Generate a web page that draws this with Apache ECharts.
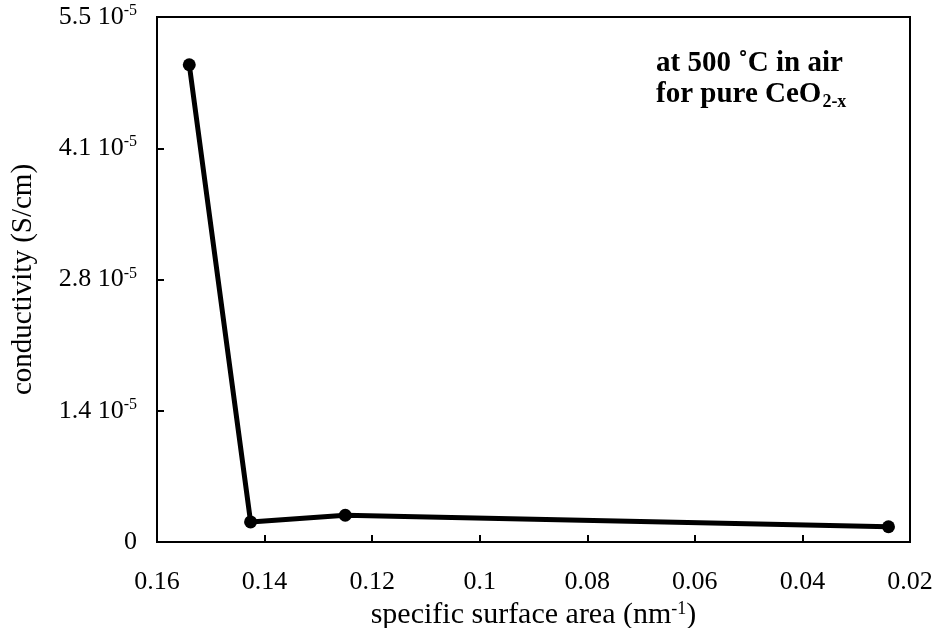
<!DOCTYPE html>
<html>
<head>
<meta charset="utf-8">
<script src="https://cdn.jsdelivr.net/npm/echarts@6/dist/echarts.min.js"></script>
<style>
  html, body { margin: 0; padding: 0; background: #fff; }
  #chart { width: 936px; height: 628px; }
</style>
</head>
<body>
<div id="chart"></div>
<script>
// specific surface area (nm^-1)
var surfaceArea = [0.154, 0.1426, 0.125, 0.024];
// conductivity in units of 1e-5 S/cm
var conductivity = [5.0, 0.21, 0.28, 0.16];
// tick labels
var xTickLabels = ["0.02", "0.04", "0.06", "0.08", "0.1", "0.12", "0.14", "0.16"];
var yTickLabels = ["0", "1.4", "2.8", "4.1", "5.5"];

var font = "Liberation Serif";
var chart = echarts.init(document.getElementById("chart"));

var points = [];
for (var i = 0; i < surfaceArea.length; i++) {
  points.push([surfaceArea[i], conductivity[i]]);
}

chart.setOption({
  animation: false,
  backgroundColor: "#fff",
  grid: {
    left: 157,
    right: 26,
    top: 17,
    bottom: 86,
    containLabel: false,
    outerBoundsMode: "none",
    show: true,
    borderColor: "#000",
    borderWidth: 2
  },
  xAxis: {
    type: "value",
    inverse: true,
    min: 0.02,
    max: 0.16,
    interval: 0.02,
    name: "{a|specific surface area (nm}{sup|-1}{a|)}",
    nameLocation: "middle",
    nameGap: 50,
    nameTextStyle: {
      rich: {
        a: { fontFamily: font, fontSize: 30, color: "#000" },
        sup: { fontFamily: font, fontSize: 18, color: "#000", verticalAlign: "top", padding: [0, 0, 13, 0] }
      }
    },
    axisLine: { lineStyle: { color: "#000", width: 2 } },
    axisTick: { inside: true, length: 7, lineStyle: { color: "#000", width: 2 } },
    splitLine: { show: false },
    axisLabel: {
      margin: 27,
      fontFamily: font,
      fontSize: 26,
      color: "#000",
      formatter: function (v) {
        var idx = Math.round((v - 0.02) / 0.02);
        return xTickLabels[idx];
      }
    }
  },
  yAxis: {
    type: "value",
    min: 0,
    max: 5.5,
    interval: 1.375,
    name: "conductivity (S/cm)",
    nameLocation: "middle",
    nameRotate: 90,
    nameGap: 119,
    nameTextStyle: { fontFamily: font, fontSize: 29, color: "#000" },
    axisLine: { lineStyle: { color: "#000", width: 2 } },
    axisTick: { inside: true, length: 7, lineStyle: { color: "#000", width: 2 } },
    splitLine: { show: false },
    axisLabel: {
      margin: 20,
      formatter: function (v) {
        var idx = Math.round(v / 1.375);
        if (idx === 0) return "{a|0}";
        return "{a|" + yTickLabels[idx] + " 10}{sup|-5}";
      },
      rich: {
        a: { fontFamily: font, fontSize: 26, color: "#000" },
        sup: { fontFamily: font, fontSize: 16, color: "#000", verticalAlign: "top", padding: [0, 0, 12, 0] }
      }
    }
  },
  series: [{
    type: "line",
    data: points,
    symbol: "circle",
    symbolSize: 13,
    itemStyle: { color: "#000" },
    lineStyle: { color: "#000", width: 5 }
  }],
  graphic: [{
    type: "text",
    left: 656,
    top: 49,
    style: {
      text: "{b|at 500 \u02daC in air}\n{b|for pure CeO}{sub|2-x}",
      rich: {
        b: { fontFamily: font, fontSize: 29, fontWeight: "bold", fill: "#000", lineHeight: 30 },
        sub: { fontFamily: font, fontSize: 18, fontWeight: "bold", fill: "#000", padding: [15, 0, 0, 1] }
      }
    }
  }]
});
</script>
</body>
</html>
